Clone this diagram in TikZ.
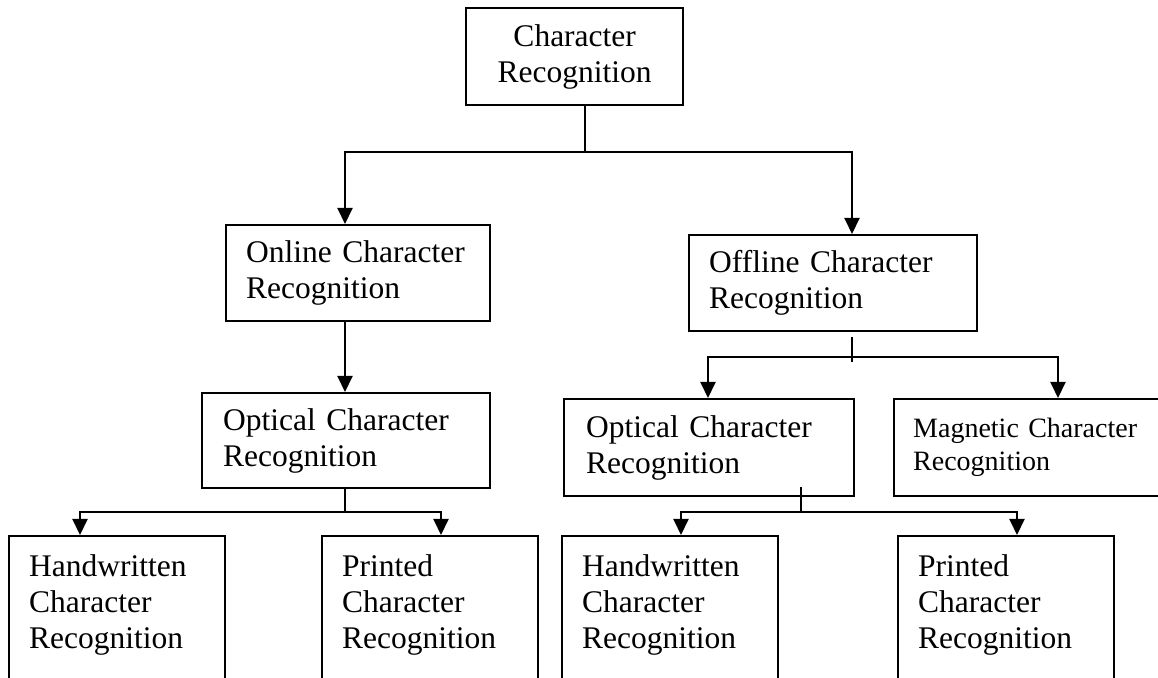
\documentclass[tikz,border=0pt]{standalone}
\usepackage{fontspec}
\setmainfont{Liberation Serif}
\usetikzlibrary{arrows.meta}

\tikzset{
  caja/.style={draw, line width=1.2pt, anchor=north west, align=left, inner ysep=0pt,
    font=\fontsize{15.75}{18}\selectfont},
  hoja/.style={draw, line width=1.2pt, anchor=north west, inner xsep=10pt, inner ysep=9.2pt,
    font=\fontsize{15.75}{18}\selectfont},
  linea/.style={line width=1pt},
  flecha/.style={line width=1pt, -{Triangle[length=8pt,width=7.5pt]}},
  flechas/.style={line width=1pt, {Triangle[length=8pt,width=7.5pt]}-{Triangle[length=8pt,width=7.5pt]}},
}

\begin{document}
\begin{tikzpicture}[x=0.5pt, y=-0.5pt]
  \clip (0,0) rectangle (1158,678);

  % Cajas superiores
  \node[caja, align=center, inner xsep=5pt, text width=98.5pt, minimum height=48.5pt] (raiz) at (465,7) {Character\\Recognition};
  \node[caja, inner xsep=10pt, text width=112pt, minimum height=48pt] (online) at (225,224) {Online Character\\Recognition};
  \node[caja, inner xsep=10pt, text width=124pt, minimum height=48pt] (offline) at (688,234) {Offline Character\\Recognition};
  \node[caja, inner xsep=10.5pt, text width=123pt, minimum height=47.5pt] (ocrA) at (201,392) {Optical Character\\Recognition};
  \node[caja, inner xsep=11pt, text width=123pt, minimum height=48.5pt] (ocrB) at (563,398) {Optical Character\\Recognition};
  \node[caja, inner xsep=9.5pt, text width=140pt, minimum height=48.5pt, font=\fontsize{14}{16.5}\selectfont] (mcr) at (893,398) {Magnetic Character\\Recognition};

  % Cajas inferiores (cortadas por abajo)
  \foreach \x/\nombre/\tipo in {8/hwA/Handwritten, 321/prA/Printed, 561/hwB/Handwritten, 897/prB/Printed}
    \node[hoja] (\nombre) at (\x,535) {\parbox[t][90pt][t]{88pt}{\tipo\\Character\\Recognition}};

  % Raiz -> online / offline
  \coordinate (r0) at (585,152);
  \coordinate (r1) at (345,152);
  \coordinate (r2) at (852,152);
  \draw[linea] (raiz.south -| r0) -- (r0);
  \draw[flechas] (r1 |- online.north) -- (r1) -- (r2) -- (r2 |- offline.north);

  % Online -> optical
  \draw[flecha] (online.south -| r1) -- (r1 |- ocrA.north);

  % Optical (izq.) -> handwritten / printed
  \coordinate (a0) at (345,512);
  \coordinate (a1) at (80,512);
  \coordinate (a2) at (441,512);
  \draw[linea] (ocrA.south -| a0) -- (a0);
  \draw[flechas] (a1 |- hwA.north) -- (a1) -- (a2) -- (a2 |- prA.north);

  % Offline -> optical / magnetic
  \coordinate (b0) at (852,337);
  \coordinate (b3) at (852,362);
  \coordinate (b1) at (708,357);
  \coordinate (b2) at (1058,357);
  \draw[linea] (b0) -- (b3);
  \draw[flechas] (b1 |- ocrB.north) -- (b1) -- (b2) -- (b2 |- mcr.north);

  % Optical (der.) -> handwritten / printed
  \coordinate (c0) at (801,487);
  \coordinate (c1) at (681,512);
  \coordinate (c2) at (1017,512);
  \draw[linea] (c0) -- (c0 |- c1);
  \draw[flechas] (c1 |- hwB.north) -- (c1) -- (c2) -- (c2 |- prB.north);
\end{tikzpicture}
\end{document}
